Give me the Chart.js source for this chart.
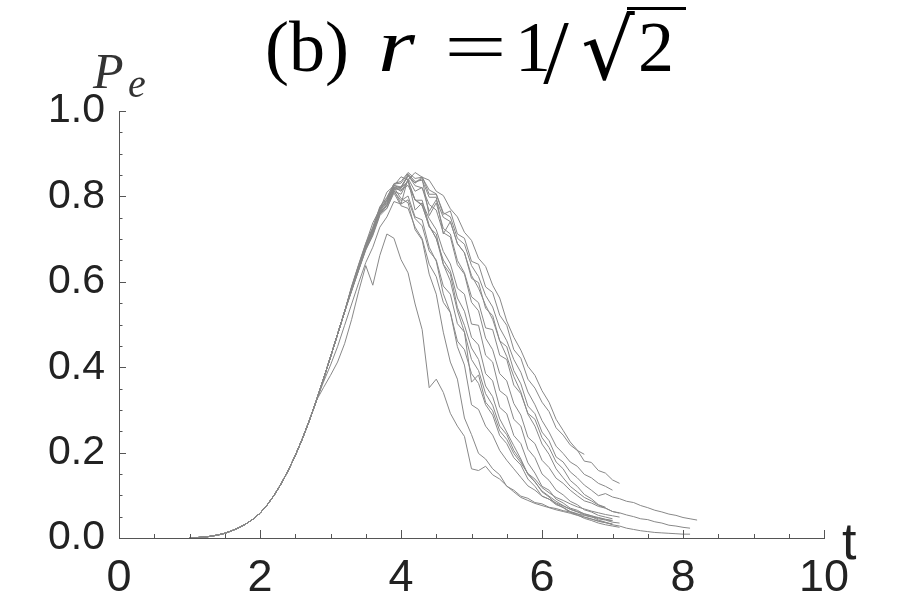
<!DOCTYPE html>
<html><head><meta charset="utf-8">
<script src="https://cdn.jsdelivr.net/npm/chart.js@4"></script>
<style>html,body{margin:0;padding:0;background:#fff}canvas{display:block}</style>
</head><body>
<canvas id="c" width="910" height="605" style="width:910px;height:605px"></canvas>
<script>
// ---- data ----
const xTickLabels = [0, 2, 4, 6, 8, 10];
const yTickLabels = [0.0, 0.2, 0.4, 0.6, 0.8, 1.0];
const tStep = 0.1;
const riseStartT = 1.0;
// common rising part, t = 1.0 ... 3.2
const rise = [0.000, 0.001, 0.002, 0.004, 0.007, 0.011, 0.017, 0.024, 0.033, 0.044, 0.058, 0.077, 0.100, 0.127, 0.158, 0.193, 0.232, 0.275, 0.322, 0.372, 0.424, 0.477, 0.530];
// individual trajectories (start time in trajStarts, step 0.1)
const traj1 = [.588,.640,.690,.738,.770,.810,.825,.846,.838,.856, .845,.838,.812,.802,.771,.752,.716,.697,.655,.636, .592,.562,.508,.470,.440,.402,.381,.345,.318,.278, .252,.225,.206,.180,.177,.158,.152,.136,.128];
const traj2 = [.583,.628,.682,.718,.765,.785,.822,.818,.849,.831, .846,.805,.805,.758,.766,.712,.702,.648,.641,.588, .575,.522,.498,.441,.421,.372,.351,.318,.296,.258, .241,.218,.205,.196];
const traj3 = [.580,.628,.676,.712,.758,.778,.815,.782,.842,.812, .821,.765,.792,.751,.741,.689,.668,.608,.598,.538, .521,.462,.448,.392,.361,.309,.291,.248,.228,.190, .178,.155,.141,.124,.112,.099,.104,.096,.092,.086, .083,.076,.071,.065,.061,.056,.053,.048,.045,.042];
const traj4 = [.585,.636,.684,.722,.770,.792,.826,.822,.850,.825, .820,.781,.768,.715,.705,.640,.618,.552,.532,.468, .441,.385,.368,.315,.288,.236,.221,.182,.165,.140, .128,.112,.099,.087,.082,.074,.070,.062,.059,.054, .050,.045,.043,.038,.035,.030,.028,.025,.023];
const traj5 = [.580,.630,.679,.716,.762,.781,.818,.815,.826,.792, .781,.728,.712,.641,.618,.540,.498,.445,.418,.356, .331,.279,.248,.216,.185,.149,.131,.110,.098,.086, .076,.067,.061,.054,.050,.042,.037,.031,.028,.023, .020,.017,.015,.013,.012,.011,.010,.009,.009];
const traj6 = [.590,.641,.690,.728,.776,.798,.829,.831,.853,.835, .838,.798,.798,.712,.741,.690,.668,.615,.585,.545, .512,.462,.425,.378,.342,.290,.262,.220,.196,.162, .141,.121,.108,.095,.087,.077,.070,.062,.058];
const traj7 = [.578,.627,.674,.708,.755,.772,.812,.805,.838,.768, .785,.748,.722,.671,.642,.585,.571,.501,.498,.428, .412,.345,.332,.278,.262,.208,.188,.150,.135,.112, .101,.086,.078,.066,.061,.053,.049,.045];
const traj8 = [.586,.637,.686,.724,.771,.790,.825,.820,.835,.791, .791,.732,.701,.651,.625,.562,.531,.470,.452,.385, .368,.306,.291,.240,.221,.176,.152,.121,.112,.091, .082,.070,.065,.056,.052,.045,.042,.037,.035];
const traj9 = [.582,.631,.678,.714,.760,.772,.808,.778,.772,.728, .701,.641,.612,.552,.528,.461,.441,.385,.362,.312, .288,.240,.221,.188,.171,.138,.121,.098,.091,.078, .072,.062,.057,.049,.045,.039,.036,.032];
const traj10 = [.352,.381,.412,.455,.512,.578,.638,.592,.662,.712, .702,.652,.621,.548,.488,.352,.372,.341,.292,.262, .238,.162,.158,.168,.148,.138,.122,.108,.095,.088, .081,.076,.071,.066,.062,.058,.053,.049,.044,.040, .036,.033];
const traj11 = [.365,.405,.448,.498,.548,.598,.645,.681,.728,.752, .788,.782,.792,.748,.731,.672,.651,.590,.571,.502, .482,.418,.392,.338,.311,.262,.242,.205,.181,.150, .132,.108,.096,.080,.071,.060,.054,.046,.041,.035, .031,.028,.025];
const traj12 = [.584,.634,.682,.720,.766,.788,.821,.795,.785,.722, .698,.618,.571,.482,.412,.372,.281,.242,.198,.185, .162,.148,.121,.112,.098,.093,.083,.080,.072,.069, .064,.061,.056,.053,.049,.047,.043,.040];
const traj13 = [.581,.630,.677,.712,.759,.781,.816,.822,.848,.832, .842,.755,.785,.725,.712,.650,.621,.565,.551,.492, .488,.428,.418,.358,.338,.292,.278,.235,.212,.178, .162,.135,.121,.102,.092,.078,.072];
const traj14 = [.587,.638,.687,.726,.773,.796,.830,.835,.856,.842, .845,.815,.806,.762,.752,.702,.688,.638,.612,.568, .541,.492,.462,.418,.388,.342,.312,.275,.248,.215, .198,.178,.168,.149,.141,.128,.121,.112];
const traj15 = [.583,.632,.680,.715,.763,.779,.812,.790,.801,.752, .745,.681,.648,.572,.528,.448,.405,.312,.301,.262, .241,.205,.182,.162,.142,.122,.112,.098,.091,.082, .075,.068,.062,.057,.052,.048,.044,.041];
const traj16 = [.585,.635,.683,.721,.768,.792,.822,.812,.838,.792, .778,.731,.702,.641,.602,.532,.482,.365,.382,.318, .298,.251,.231,.198,.176,.151,.138,.118,.106,.095, .088,.080,.073,.068,.063,.059,.055,.052,.049];
const trajectories = [traj1, traj2, traj3, traj4, traj5, traj6, traj7, traj8, traj9, traj10, traj11, traj12, traj13, traj14, traj15, traj16];
const trajStarts = [3.3, 3.3, 3.3, 3.3, 3.3, 3.3, 3.3, 3.3, 3.3, 2.9, 2.9, 3.3, 3.3, 3.3, 3.3, 3.3];

// ---- build datasets ----
const r3 = v => Math.round(v * 1000) / 1000;
const datasets = trajectories.map((vals, k) => {
  const pts = [];
  const s = trajStarts[k];
  rise.forEach((v, i) => { const t = r3(riseStartT + i * tStep); if (t < s - 1e-6) pts.push({x: t, y: v}); });
  vals.forEach((v, j) => pts.push({x: r3(s + j * tStep), y: v}));
  return { data: pts, borderColor: '#888888', borderWidth: 1, pointRadius: 0, fill: false, tension: 0 };
});

const AXIS_COLOR = '#555555';
const decorations = {
  id: 'decorations',
  afterDraw(chart) {
    const ctx = chart.ctx;
    const xs = chart.scales.x, ys = chart.scales.y;
    const ca = chart.chartArea;
    ctx.save();
    // inward tick marks
    ctx.strokeStyle = AXIS_COLOR; ctx.lineWidth = 1;
    ctx.beginPath();
    for (let i = 1; i <= 20; i++) {
      const px = Math.round(xs.getPixelForValue(i * 0.5)) + 0.5;
      const len = (i % 4 === 0) ? 8 : 4;
      ctx.moveTo(px, ca.bottom); ctx.lineTo(px, ca.bottom - len);
    }
    for (let i = 1; i <= 20; i++) {
      const py = Math.round(ys.getPixelForValue(i * 0.05)) + 0.5;
      const len = (i % 4 === 0) ? 7 : 3.5;
      ctx.moveTo(ca.left, py); ctx.lineTo(ca.left + len, py);
    }
    ctx.stroke();

    // axis name labels
    ctx.fillStyle = '#222';
    ctx.textAlign = 'left'; ctx.textBaseline = 'alphabetic';
    ctx.font = '52px "Liberation Sans"';
    ctx.fillText('t', 842, 559);
    ctx.fillStyle = '#333';
    ctx.font = 'italic 50px "Liberation Serif"';
    ctx.fillText('P', 93, 88);
    ctx.font = 'italic 40px "Liberation Serif"';
    ctx.fillText('e', 128, 97);

    // title: (b) r = 1/√2
    ctx.fillStyle = '#000';
    const base = 71;
    ctx.font = '72px "Liberation Serif"';
    ctx.textAlign = 'left';
    ctx.fillText('(b)', 265, base);
    ctx.save();
    ctx.font = 'italic 76px "Liberation Serif"';
    ctx.translate(378, base); ctx.scale(1.25, 1);
    ctx.fillText('r', 0, 0);
    ctx.restore();
    ctx.save();
    ctx.font = '72px "Liberation Serif"';
    ctx.textAlign = 'center';
    ctx.translate(475.5, base); ctx.scale(1.55, 1);
    ctx.fillText('=', 0, 0);
    ctx.restore();
    ctx.textAlign = 'center';
    ctx.font = '72px "Liberation Serif"';
    ctx.fillText('1', 533, base);
    ctx.font = '92px "Liberation Serif"';
    ctx.fillText('/', 556, base + 12);
    ctx.font = '84px "DejaVu Serif"';
    ctx.fillText('\u221A', 608, base + 8);
    ctx.fillRect(627, 7, 59, 3);
    ctx.font = '72px "Liberation Serif"';
    ctx.fillText('2', 656, base);
    ctx.restore();
  }
};

new Chart(document.getElementById('c'), {
  type: 'line',
  data: { datasets },
  options: {
    responsive: false,
    animation: false,
    events: [],
    layout: { padding: { top: 111, right: 86, left: 0, bottom: 0 } },
    plugins: { legend: { display: false }, tooltip: { enabled: false }, title: { display: false } },
    scales: {
      x: {
        type: 'linear', min: 0, max: 10,
        afterBuildTicks: s => { s.ticks = xTickLabels.map(v => ({ value: v })); },
        afterFit: s => { s.height = 67; },
        grid: { display: false, drawTicks: false },
        border: { display: true, color: AXIS_COLOR, width: 1 },
        ticks: { color: '#222', font: { family: 'Liberation Sans', size: 45 }, padding: 14, maxRotation: 0, autoSkip: false, callback: v => String(v) }
      },
      y: {
        type: 'linear', min: 0, max: 1,
        afterBuildTicks: s => { s.ticks = yTickLabels.map(v => ({ value: v })); },
        afterFit: s => { s.width = 119; },
        grid: { display: false, drawTicks: false },
        border: { display: true, color: AXIS_COLOR, width: 1 },
        ticks: { color: '#222', font: { family: 'Liberation Sans', size: 41 }, padding: 14, autoSkip: false, callback: v => Number(v).toFixed(1) }
      }
    }
  },
  plugins: [decorations]
});
</script>
</body></html>
